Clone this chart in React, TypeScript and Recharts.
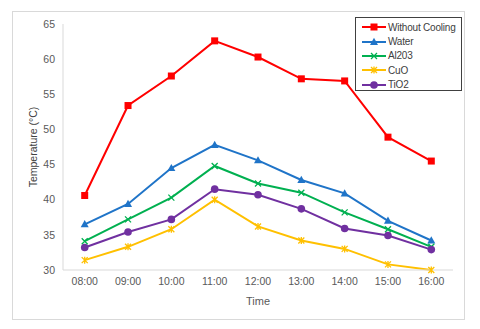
import React from 'react';
import { LineChart, Line, XAxis, YAxis } from 'recharts';

const times = ['08:00', '09:00', '10:00', '11:00', '12:00', '13:00', '14:00', '15:00', '16:00'];
const withoutCooling = [40.6, 53.4, 57.6, 62.6, 60.3, 57.2, 56.9, 48.9, 45.5];
const water = [36.5, 39.4, 44.5, 47.8, 45.6, 42.8, 40.9, 37.0, 34.2];
const al2o3 = [34.1, 37.2, 40.3, 44.8, 42.3, 41.0, 38.2, 35.8, 33.3];
const cuo = [31.4, 33.3, 35.8, 40.0, 36.2, 34.2, 33.0, 30.8, 30.0];
const tio2 = [33.2, 35.4, 37.2, 41.5, 40.7, 38.7, 35.9, 34.9, 32.9];
const yTicks = [30, 35, 40, 45, 50, 55, 60, 65];

const data = times.map((t, i) => ({
  time: t,
  withoutCooling: withoutCooling[i],
  water: water[i],
  al2o3: al2o3[i],
  cuo: cuo[i],
  tio2: tio2[i],
}));

type Shape = 'square' | 'triangle' | 'x' | 'star' | 'circle';

const SERIES: { key: string; name: string; color: string; shape: Shape }[] = [
  { key: 'withoutCooling', name: 'Without Cooling', color: '#FF0000', shape: 'square' },
  { key: 'water', name: 'Water', color: '#1F74C8', shape: 'triangle' },
  { key: 'al2o3', name: 'Al203', color: '#00B050', shape: 'x' },
  { key: 'cuo', name: 'CuO', color: '#FFC000', shape: 'star' },
  { key: 'tio2', name: 'TiO2', color: '#7030A0', shape: 'circle' },
];

const FONT = "'Liberation Sans', Arial, sans-serif";

function Marker({ cx, cy, shape, color }: { cx: number; cy: number; shape: Shape; color: string }) {
  if (cx == null || cy == null) return null;
  switch (shape) {
    case 'square':
      return <rect x={cx - 3.5} y={cy - 3.5} width={7} height={7} fill={color} />;
    case 'triangle':
      return <path d={`M${cx},${cy - 4.2} L${cx + 4},${cy + 3} L${cx - 4},${cy + 3} Z`} fill={color} />;
    case 'x':
      return (
        <path d={`M${cx - 3},${cy - 3} L${cx + 3},${cy + 3} M${cx + 3},${cy - 3} L${cx - 3},${cy + 3}`} stroke={color} strokeWidth={1.3} />
      );
    case 'star':
      return (
        <path
          d={`M${cx - 3},${cy - 3} L${cx + 3},${cy + 3} M${cx + 3},${cy - 3} L${cx - 3},${cy + 3} M${cx},${cy - 3.5} L${cx},${cy + 3.5}`}
          stroke={color}
          strokeWidth={1.3}
        />
      );
    default:
      return <circle cx={cx} cy={cy} r={3.8} fill={color} />;
  }
}

function LegendBox() {
  return (
    <div
      style={{
        position: 'absolute',
        left: 355,
        top: 17,
        border: '1.5px solid #404040',
        background: '#fff',
        padding: '2px 0 2px 6px',
        boxSizing: 'border-box',
        width: 107,
        height: 74,
      }}
    >
      {SERIES.map((s) => (
        <div key={s.key} style={{ display: 'flex', alignItems: 'center', height: 14.4, whiteSpace: 'nowrap' }}>
          <svg width={25} height={10} style={{ marginRight: 1, flexShrink: 0 }}>
            <line x1={0} y1={5} x2={24} y2={5} stroke={s.color} strokeWidth={2} />
            <Marker cx={12} cy={5} shape={s.shape} color={s.color} />
          </svg>
          <span style={{ fontFamily: FONT, fontSize: 10, letterSpacing: -0.2, color: '#404040' }}>{s.name}</span>
        </div>
      ))}
    </div>
  );
}

export default function App() {
  return (
    <div style={{ position: 'absolute', left: 0, top: 0, width: 480, height: 329, background: '#fff' }}>
      <div
        style={{
          position: 'absolute',
          left: 12,
          top: 11,
          width: 453,
          height: 309,
          border: '1px solid #D9D9D9',
          boxSizing: 'border-box',
        }}
      />
      <LineChart
        width={480}
        height={329}
        data={data}
        margin={{ top: 24, right: 27, bottom: 29, left: 0 }}
        style={{ position: 'absolute', left: 0, top: 0 }}
      >
        <XAxis
          dataKey="time"
          axisLine={{ stroke: '#D9D9D9' }}
          tickLine={false}
          height={30}
          padding={{ left: 21.7, right: 21.7 }}
          tick={{ fill: '#595959', fontSize: 10.5, fontFamily: FONT }}
          label={{ value: 'Time', position: 'insideBottom', offset: -5, fill: '#595959', fontSize: 11, fontFamily: FONT }}
        />
        <YAxis
          width={63}
          domain={[30, 65]}
          ticks={yTicks}
          axisLine={{ stroke: '#D9D9D9' }}
          tickLine={false}
          tick={{ fill: '#595959', fontSize: 10.5, fontFamily: FONT }}
          label={{
            value: 'Temperature (°C)',
            angle: -90,
            position: 'insideLeft',
            offset: 33,
            style: { textAnchor: 'middle' },
            fill: '#404040',
            fontSize: 10.5,
            fontFamily: FONT,
          }}
        />
        {SERIES.map((s) => (
          <Line
            key={s.key}
            dataKey={s.key}
            name={s.name}
            stroke={s.color}
            strokeWidth={2}
            isAnimationActive={false}
            dot={(p: any) => <Marker key={`${s.key}-${p.index}`} cx={p.cx} cy={p.cy} shape={s.shape} color={s.color} />}
            activeDot={false}
          />
        ))}
      </LineChart>
      <LegendBox />
    </div>
  );
}
